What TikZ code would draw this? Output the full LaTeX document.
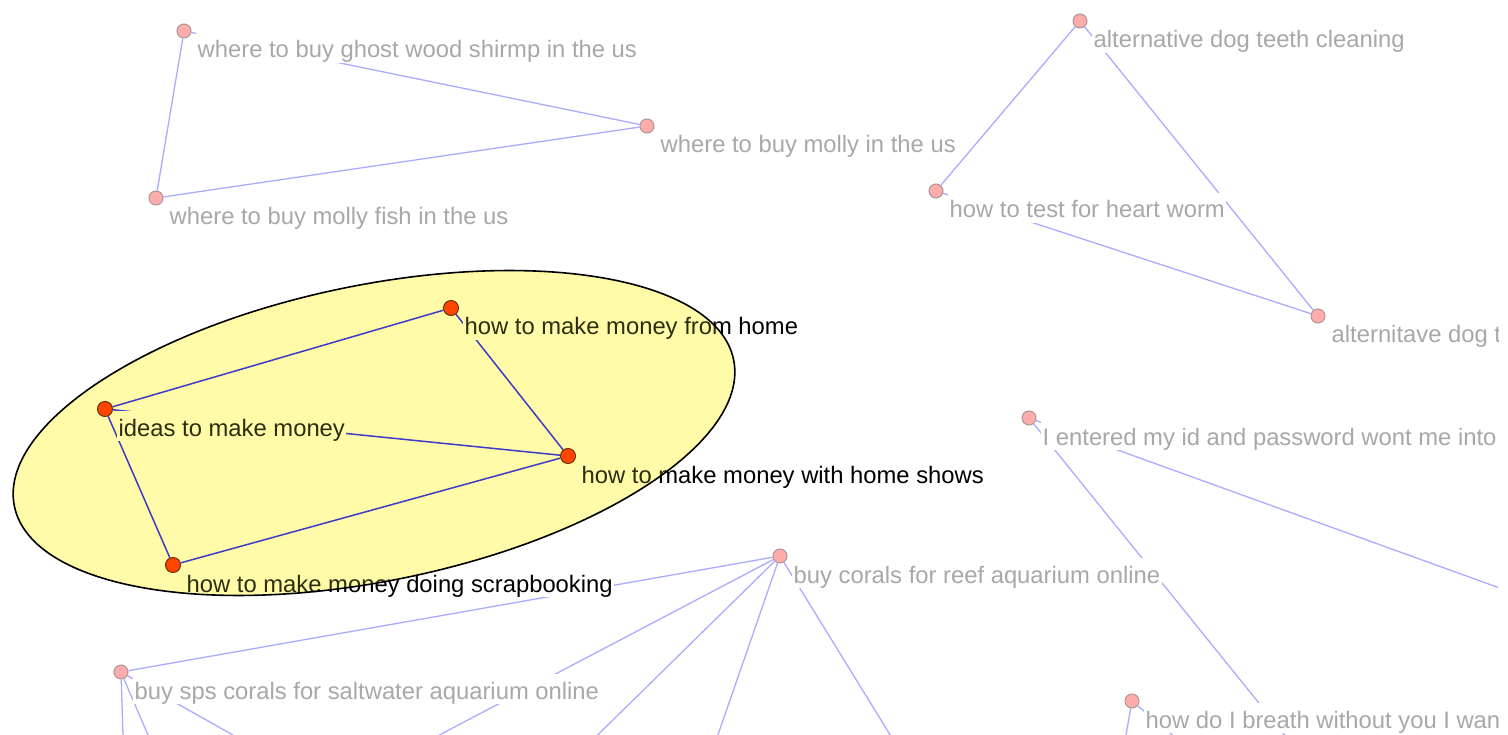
\documentclass[tikz,border=0pt]{standalone}
\usepackage{fontspec}
\setmainfont{Liberation Sans}
\definecolor{edgeg}{RGB}{172,172,255}
\definecolor{pinkf}{RGB}{255,172,172}
\definecolor{pinkd}{RGB}{175,150,150}
\definecolor{txtg}{RGB}{168,168,168}
\definecolor{ellf}{RGB}{255,251,168}
\definecolor{edgeb}{RGB}{60,60,200}
\definecolor{redf}{RGB}{255,70,0}
\definecolor{redd}{RGB}{110,50,0}
\definecolor{olivet}{RGB}{45,45,15}
\tikzset{
 gnode/.style={circle,fill=pinkf,draw=pinkd,line width=1pt,minimum size=14pt,inner sep=0pt},
 mnode/.style={circle,fill=redf,draw=redd,line width=1pt,minimum size=15pt,inner sep=0pt},
 lab/.style={anchor=base west,inner xsep=1.5pt,inner ysep=0pt,text height=25pt,text depth=5pt,font=\fontsize{23.8pt}{28pt}\selectfont},
 glab/.style={lab,fill=white,text=txtg},
 mlabw/.style={lab,fill=white,text=black},
 mlaby/.style={lab,fill=ellf,text=olivet},
 gedge/.style={draw=edgeg,line width=1.3pt},
 medge/.style={draw=edgeb,line width=1.5pt},
 ellshape/.style={rotate around={11.5:(374,433)}},
}
\begin{document}
\begin{tikzpicture}[x=1pt,y=-1pt]
\useasboundingbox (0,0) rectangle (1508,735);
\fill[white] (0,0) rectangle (1508,735);
\clip (0,0) rectangle (1498,735);

% grey markers
\node[gnode] (g1) at (184,31) {};
\node[gnode] (g2) at (647,126) {};
\node[gnode] (g3) at (156,198) {};
\node[gnode] (g4) at (1080,21) {};
\node[gnode] (g5) at (936,191) {};
\node[gnode] (g6) at (1318,316) {};
\node[gnode] (g7) at (1029,418) {};
\node[gnode] (g8) at (780,556) {};
\node[gnode] (g9) at (121,672) {};
\node[gnode] (g10) at (1132,701) {};

% off-canvas ends
\coordinate (o1) at (1591,621);
\coordinate (o2) at (1350,816);
\coordinate (o3) at (270,824);
\coordinate (o4) at (507,824);
\coordinate (o5) at (687,824);
\coordinate (o6) at (945,824);
\coordinate (o7) at (125,798);
\coordinate (o8) at (175,798);
\coordinate (o9) at (345,798);
\coordinate (o10) at (1114,803);
\coordinate (o11) at (1246,797);

% grey edges
\draw[gedge] (g1) -- (g2);
\draw[gedge] (g1) -- (g3);
\draw[gedge] (g3) -- (g2);
\draw[gedge] (g4) -- (g5);
\draw[gedge] (g4) -- (g6);
\draw[gedge] (g5) -- (g6);
\draw[gedge] (g7) -- (o1);
\draw[gedge] (g7) -- (o2);
\draw[gedge] (g8) -- (g9);
\draw[gedge] (g8) -- (o3);
\draw[gedge] (g8) -- (o4);
\draw[gedge] (g8) -- (o5);
\draw[gedge] (g8) -- (o6);
\draw[gedge] (g9) -- (o7);
\draw[gedge] (g9) -- (o8);
\draw[gedge] (g9) -- (o9);
\draw[gedge] (g10) -- (o10);
\draw[gedge] (g10) -- (o11);

% grey labels
\node[glab] (l1) at ([shift={(12,27)}]g1.center) {where to buy ghost wood shirmp in the us};
\node[glab] (l2) at ([shift={(12,27)}]g2.center) {where to buy molly in the us};
\node[glab] (l3) at ([shift={(12,27)}]g3.center) {where to buy molly fish in the us};
\node[glab] (l4) at ([shift={(12,27)}]g4.center) {alternative dog teeth cleaning};
\node[glab] (l5) at ([shift={(12,27)}]g5.center) {how to test for heart worm};
\node[glab] (l6) at ([shift={(12,27)}]g6.center) {alternitave dog t};
\node[glab] (l7) at ([shift={(12,27)}]g7.center) {I entered my id and password wont me into};
\node[glab] (l8) at ([shift={(12,27)}]g8.center) {buy corals for reef aquarium online};
\node[glab] (l9) at ([shift={(12,27)}]g9.center) {buy sps corals for saltwater aquarium online};
\node[glab] (l10) at ([shift={(12,27)}]g10.center) {how do I breath without you I wan};

% money group, labels outside the highlight
\coordinate (p1) at (451,308);
\coordinate (p2) at (105,409);
\coordinate (p3) at (568,456);
\coordinate (p4) at (173,565);
\node[mlabw] (ma1) at ([shift={(12,27)}]p1) {how to make money from home};
\node[mlabw] (ma2) at ([shift={(12,27)}]p2) {ideas to make money};
\node[mlabw] (ma3) at ([shift={(12,27)}]p3) {how to make money with home shows};
\node[mlabw] (ma4) at ([shift={(12,27)}]p4) {how to make money doing scrapbooking};

% highlight ellipse
\fill[ellf,ellshape] (374,433) ellipse [x radius=367, y radius=148];

\node[mnode] (m1) at (p1) {};
\node[mnode] (m2) at (p2) {};
\node[mnode] (m3) at (p3) {};
\node[mnode] (m4) at (p4) {};
\draw[medge] (m2) -- (m1);
\draw[medge] (m1) -- (m3);
\draw[medge] (m2) -- (m3);
\draw[medge] (m2) -- (m4);
\draw[medge] (m4) -- (m3);

\begin{scope}
\clip[ellshape] (374,433) ellipse [x radius=367, y radius=148];
\node[mlaby] (mb1) at ([shift={(12,27)}]m1.center) {how to make money from home};
\node[mlaby] (mb2) at ([shift={(12,27)}]m2.center) {ideas to make money};
\node[mlaby] (mb3) at ([shift={(12,27)}]m3.center) {how to make money with home shows};
\node[mlaby] (mb4) at ([shift={(12,27)}]m4.center) {how to make money doing scrapbooking};
\end{scope}

\draw[black,line width=1.6pt,ellshape] (374,433) ellipse [x radius=367, y radius=148];
\end{tikzpicture}
\end{document}
